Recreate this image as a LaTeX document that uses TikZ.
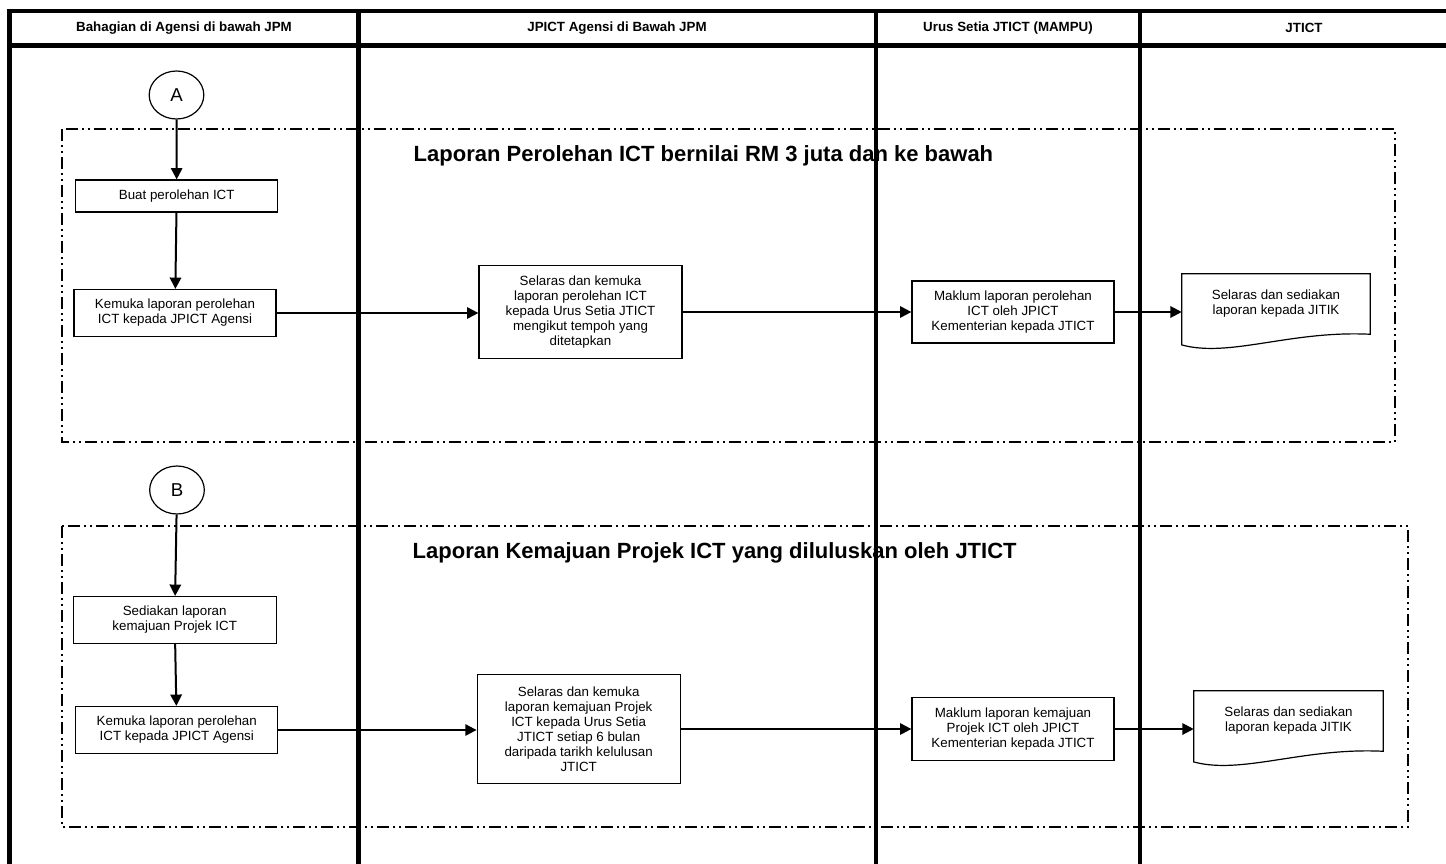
\documentclass[tikz,border=0pt]{standalone}
\usepackage{fontspec}
\setmainfont{Liberation Sans}
\usetikzlibrary{arrows.meta,shapes.geometric}

\begin{document}
\begin{tikzpicture}[x=0.75pt, y=-0.75pt,
    lane/.style={line width=3.6pt, line join=miter},
    grp/.style={line width=1pt, dash pattern=on 9pt off 3pt on 1.5pt off 3pt on 1.5pt off 3pt},
    box/.style={draw, line width=0.9pt, inner sep=2pt, align=center, font=\fontsize{10}{11.25}\selectfont},
    doc/.style={inner sep=2pt, align=center, font=\fontsize{10}{11.25}\selectfont},
    conn/.style={draw, ellipse, line width=0.9pt, minimum width=41pt, minimum height=36pt, font=\fontsize{14}{16}\selectfont},
    hd/.style={font=\bfseries\fontsize{10}{12}\selectfont},
    ttl/.style={anchor=base west, font=\bfseries\fontsize{16.5}{19}\selectfont},
    arr/.style={line width=1.5pt, -{Triangle[length=8.5pt,width=8.5pt]}}]
  \useasboundingbox (0,0) rectangle (1446,864);

  % lanes
  \draw[lane] (1446,11) -- (9.5,11) -- (9.5,864);
  \draw[lane] (9.5,45.5) -- (1446,45.5);
  \foreach \x in {358.5,876,1140} \draw[lane] (\x,11) -- (\x,864);
  \node[hd] (hdA) at (184,28) {Bahagian di Agensi di bawah JPM};
  \node[hd] (hdB) at (617,28) {JPICT Agensi di Bawah JPM};
  \node[hd] (hdC) at (1008,28) {Urus Setia JTICT (MAMPU)};
  \node[hd] (hdD) at (1304,28) {JTICT};

  % groups
  \draw[grp] (62,129) rectangle (1395,442);
  \draw[grp] (62,526) rectangle (1408,827);
  \node[ttl] (t1) at (409,161) {Laporan Perolehan ICT bernilai RM 3 juta dan ke bawah};
  \node[ttl] (t2) at (408,558) {Laporan Kemajuan Projek ICT yang diluluskan oleh JTICT};

  % first flow
  \node[conn] (cA) at (176.5,95) {A};
  \node[box, minimum width=151.5pt, minimum height=24pt] (b1) at (176.7,196) {Buat perolehan ICT};
  \node[box, minimum width=151.5pt, minimum height=35.25pt] (k1) at (175,313) {Kemuka laporan perolehan\\ICT kepada JPICT Agensi};
  \node[box, minimum width=152.25pt, minimum height=69.75pt] (s1) at (580.5,312) {Selaras dan kemuka\\laporan perolehan ICT\\kepada Urus Setia JTICT\\mengikut tempoh yang\\ditetapkan};
  \node[box, minimum width=151.5pt, minimum height=46.5pt] (m1) at (1013,312) {Maklum laporan perolehan\\ICT oleh JPICT\\Kementerian kepada JTICT};
  \node[doc, minimum width=141pt, minimum height=45pt] (d1) at (1276,304) {Selaras dan sediakan\\laporan kepada JITIK};

  % second flow
  \node[conn] (cB) at (177,490) {B};
  \node[box, minimum width=152.25pt, minimum height=35.25pt] (b2) at (174.7,620) {Sediakan laporan\\kemajuan Projek ICT};
  \node[box, minimum width=151.5pt, minimum height=35.25pt] (k2) at (176.8,730) {Kemuka laporan perolehan\\ICT kepada JPICT Agensi};
  \node[box, minimum width=152.25pt, minimum height=81.75pt] (s2) at (578.7,729) {Selaras dan kemuka\\laporan kemajuan Projek\\ICT kepada Urus Setia\\JTICT setiap 6 bulan\\daripada tarikh kelulusan\\JTICT};
  \node[box, minimum width=151.5pt, minimum height=47.25pt] (m2) at (1013,729) {Maklum laporan kemajuan\\Projek ICT oleh JPICT\\Kementerian kepada JTICT};
  \node[doc, minimum width=141.75pt, minimum height=45pt] (d2) at (1288.5,721) {Selaras dan sediakan\\laporan kepada JITIK};

  % document outlines
  \foreach \d in {d1,d2}
    \draw[line width=0.9pt] (\d.north west) -- (\d.north east) -- (\d.south east)
      .. controls +(-80,-4) and +(48,13) .. ([yshift=-8pt]\d.south west) -- cycle;

  % connectors
  \foreach \i in {1,2} {
    \draw[arr] (b\i) -- (k\i);
    \draw[arr] (k\i.east) -- (k\i.east -| s\i.west);
    \draw[arr] (s\i.east) -- (s\i.east -| m\i.west);
    \draw[arr] (m\i.east) -- (m\i.east -| d\i.west);
  }
  \draw[arr] (cA) -- (b1);
  \draw[arr] (cB) -- (b2);
\end{tikzpicture}
\end{document}
